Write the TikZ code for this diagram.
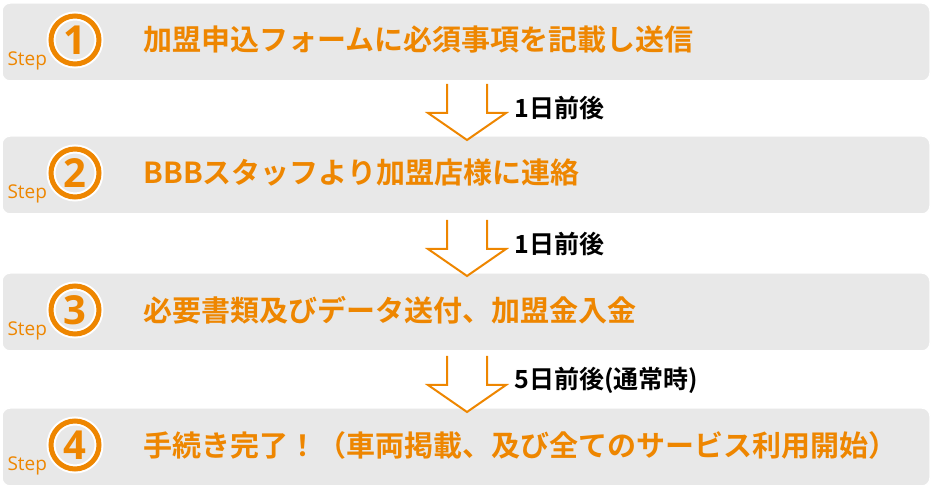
\documentclass[tikz,border=0pt]{standalone}
\usepackage{fontspec}
\setmainfont{Noto Sans CJK JP}[BoldFont={* Bold}]
\newfontfamily\stepfont{Open Sans}
\definecolor{org}{HTML}{EE8600}
\definecolor{barg}{HTML}{E8E8E8}
\begin{document}
\begin{tikzpicture}[x=1pt,y=1pt,
  bar/.style={fill=barg,draw=white,line width=1.5pt,rounded corners=8pt},
  ring/.style={circle,draw=org,line width=5pt,minimum size=48pt,inner sep=0pt,fill=none},
  halo/.style={circle,draw=white,line width=9pt,minimum size=48pt,inner sep=0pt},
  num/.style={text=org,font=\stepfont\bfseries\fontsize{40}{40}\selectfont},
  steplbl/.style={text=org,font=\stepfont\fontsize{19}{19}\selectfont,anchor=base west},
  main/.style={text=org,font=\bfseries\fontsize{29}{31}\selectfont,anchor=west},
  lbl/.style={font=\bfseries\fontsize{25}{27}\selectfont,anchor=west},
  arr/.style={draw=org,fill=white,line width=2pt}]
\useasboundingbox (0,0) rectangle (932,489);
\foreach \n/\yc/\t in {1/447/加盟申込フォームに必須事項を記載し送信,
                       2/314/BBBスタッフより加盟店様に連絡,
                       3/177/必要書類及びデータ送付、加盟金入金,
                       4/42/手続き完了！（車両掲載、及び全てのサービス利用開始）}{
  \draw[bar] (2,\yc-39) rectangle (930,\yc+39);
  \node[halo] (h\n) at (75,\yc+2) {};
  \node[ring] (c\n) at (75,\yc+2) {};
  \node[num] (n\n) at (c\n) {\n};
  \node[steplbl] (s\n) at (4,\yc-24) {Step};
  \node[main] (t\n) at (140,\yc+2) {\t};
}
\foreach \yt/\l/\k in {349/1日前後/a, 213/1日前後/b, 77/5日前後(通常時)/c}{
  \coordinate (top\k) at (467,\yt+56);
  \draw[arr] (447,\yt+56) -- (447,\yt+27) -- (428,\yt+27) -- (467,\yt) -- (506,\yt+27) -- (487,\yt+27) -- (487,\yt+56);
  \node[lbl] (l\k) at (511,\yt+32) {\l};
}
\end{tikzpicture}
\end{document}
